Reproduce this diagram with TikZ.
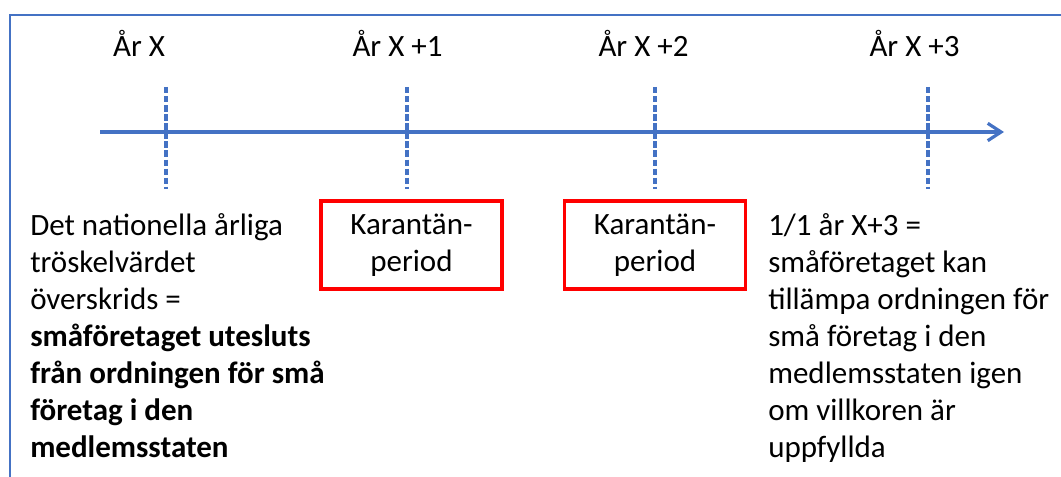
\documentclass[tikz,border=0pt]{standalone}
\usepackage{fontspec}
\setmainfont{Carlito}
\usetikzlibrary{arrows.meta}
\definecolor{axisblue}{HTML}{4472C4}
\definecolor{boxred}{HTML}{FF0000}
\begin{document}
\begin{tikzpicture}[x=0.75pt,y=-0.75pt,
  txt/.style={font=\fontsize{23.25}{27.75}\selectfont, inner sep=0pt, text=black},
  yearlabel/.style={txt, anchor=base},
  tickline/.style={draw=axisblue, line width=2.6pt, dash pattern=on 4.8pt off 2pt},
  timeaxis/.style={draw=axisblue, line width=2.4pt, -{Straight Barb[length=10pt,width=13pt]}},
  quarantine/.style={txt, draw=boxred, line width=2.6pt, align=center,
    minimum width=136pt, minimum height=66pt},
  note/.style={txt, align=left, anchor=base west},
  frameline/.style={draw=axisblue, line width=1.5pt}
]
\useasboundingbox (0,0) rectangle (1061,477);

% outer frame (top and left edges)
\coordinate (fbl) at (9.5,480);
\coordinate (ftl) at (9.5,15.5);
\coordinate (ftr) at (1064,15.5);
\draw[frameline] (fbl) -- (ftl) -- (ftr);

% time axis
\coordinate (axstart) at (100,132);
\coordinate (axend) at (1004,132);
\draw[timeaxis] (axstart) -- (axend);

% year ticks and labels
\foreach \name/\x/\lx/\lab in {y0/166/139/{År X}, y1/407/397.5/{År X +1},
                               y2/655/643.5/{År X +2}, y3/928/914.5/{År X +3}} {
  \coordinate (\name top) at (\x,87);
  \coordinate (\name bot) at (\x,189);
  \draw[tickline] (\name top) -- (\name bot);
  \node[yearlabel] (\name lab) at (\lx,57) {\lab};
}

% quarantine periods
\node[quarantine] (kar1) at (411.5,245) {Karantän-\\period};
\node[quarantine] (kar2) at (655,245) {Karantän-\\period};

% explanatory notes (anchored at the baseline of their last line)
\node[note] (left) at (30,457) {Det nationella årliga\\tröskelvärdet\\överskrids =\\
  \textbf{småföretaget utesluts}\\\textbf{från ordningen för små}\\
  \textbf{företag i den}\\\textbf{medlemsstaten}};
\node[note] (right) at (768,457) {1/1 år X+3 =\\småföretaget kan\\tillämpa ordningen för\\
  små företag i den\\medlemsstaten igen\\om villkoren är\\uppfyllda};
\end{tikzpicture}
\end{document}
